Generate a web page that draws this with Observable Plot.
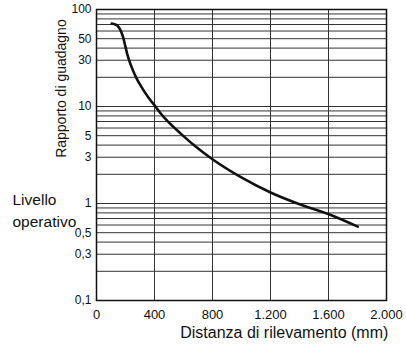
<!DOCTYPE html>
<html>
<head>
<meta charset="utf-8">
<script src="https://cdn.jsdelivr.net/npm/d3@7"></script>
<script src="https://cdn.jsdelivr.net/npm/@observablehq/plot@0.6"></script>
<style>
  html, body { margin: 0; padding: 0; background: #fff; }
  #chart { width: 406px; height: 345px; }
</style>
</head>
<body>
<div id="chart"></div>
<script>
// Curve: sensing distance (mm) vs gain ratio
const distance = [105, 125, 145, 168, 183, 197, 214, 237, 271, 317, 363, 409, 443, 490, 581, 673, 802, 1002, 1204, 1386, 1607, 1802];
const gain     = [71.8, 70.5, 68, 60, 52.2, 42.9, 33.8, 26.7, 20.2, 15.3, 12.1, 9.9, 8.47, 7.05, 5.25, 3.98, 2.84, 1.845, 1.29, 1.0, 0.77, 0.577];

const xTicks = [0, 400, 800, 1200, 1600, 2000];
const xTickLabels = ["0", "400", "800", "1.200", "1.600", "2.000"];
const yTicks = [0.1, 0.3, 0.5, 1, 3, 5, 10, 30, 50, 100];
const yTickLabels = ["0,1", "0,3", "0,5", "1", "3", "5", "10", "30", "50", "100"];
const xGrid = [400, 800, 1200, 1600];
const yGrid = [0.2, 0.3, 0.4, 0.5, 0.6, 0.7, 0.8, 0.9, 1, 2, 3, 4, 5, 6, 7, 8, 9, 10, 20, 30, 40, 50, 60, 70, 80, 90];

const xTitle = "Distanza di rilevamento (mm)";
const yTitle = "Rapporto di guadagno";
const levelLabel = "Livello\noperativo";

const curve = distance.map((d, i) => ({x: d, y: gain[i]}));
const yTickData = yTicks.map((v, i) => ({v, label: yTickLabels[i]}));
const xTickData = xTicks.map((v, i) => ({v, label: xTickLabels[i]}));

const font = "'Liberation Sans', Arial, sans-serif";

const chart = Plot.plot({
  width: 406,
  height: 345,
  marginLeft: 96,
  marginRight: 20,
  marginTop: 9,
  marginBottom: 45,
  style: {fontFamily: font, fontSize: "12px", color: "#111", background: "#fff"},
  x: {domain: [0, 2000], axis: null},
  y: {type: "log", domain: [0.1, 100], axis: null},
  marks: [
    Plot.ruleY(yGrid, {stroke: "#333", strokeWidth: 1}),
    Plot.ruleX(xGrid, {stroke: "#333", strokeWidth: 1}),
    Plot.frame({stroke: "#111", strokeWidth: 1.5}),
    Plot.line(curve, {x: "x", y: "y", curve: "monotone-x", stroke: "#111", strokeWidth: 2.6}),
    // y tick labels
    Plot.text(yTickData, {x: 0, y: "v", text: "label", dx: -5, textAnchor: "end", lineAnchor: "middle", fontSize: 12, fill: "#111"}),
    // x tick labels
    Plot.text(xTickData, {x: "v", frameAnchor: "bottom", text: "label", dy: 14, textAnchor: "middle", lineAnchor: "middle", fontSize: 13, fill: "#111"}),
    Plot.text([xTitle], {x: 1295, frameAnchor: "bottom", dy: 32, text: d => d, fontSize: 16, lineAnchor: "middle", textAnchor: "middle", fill: "#111"}),
    Plot.text([yTitle], {x: 0, y: 15.3, dx: -35, rotate: -90, text: d => d, fontSize: 14, lineAnchor: "middle", textAnchor: "middle", fill: "#111"}),
    Plot.text([levelLabel], {x: 0, y: 0.873, dx: -84, text: d => d, fontSize: 15.5, lineHeight: 1.42, lineAnchor: "middle", textAnchor: "start", fill: "#111"})
  ]
});
document.getElementById("chart").appendChild(chart);
</script>
</body>
</html>
